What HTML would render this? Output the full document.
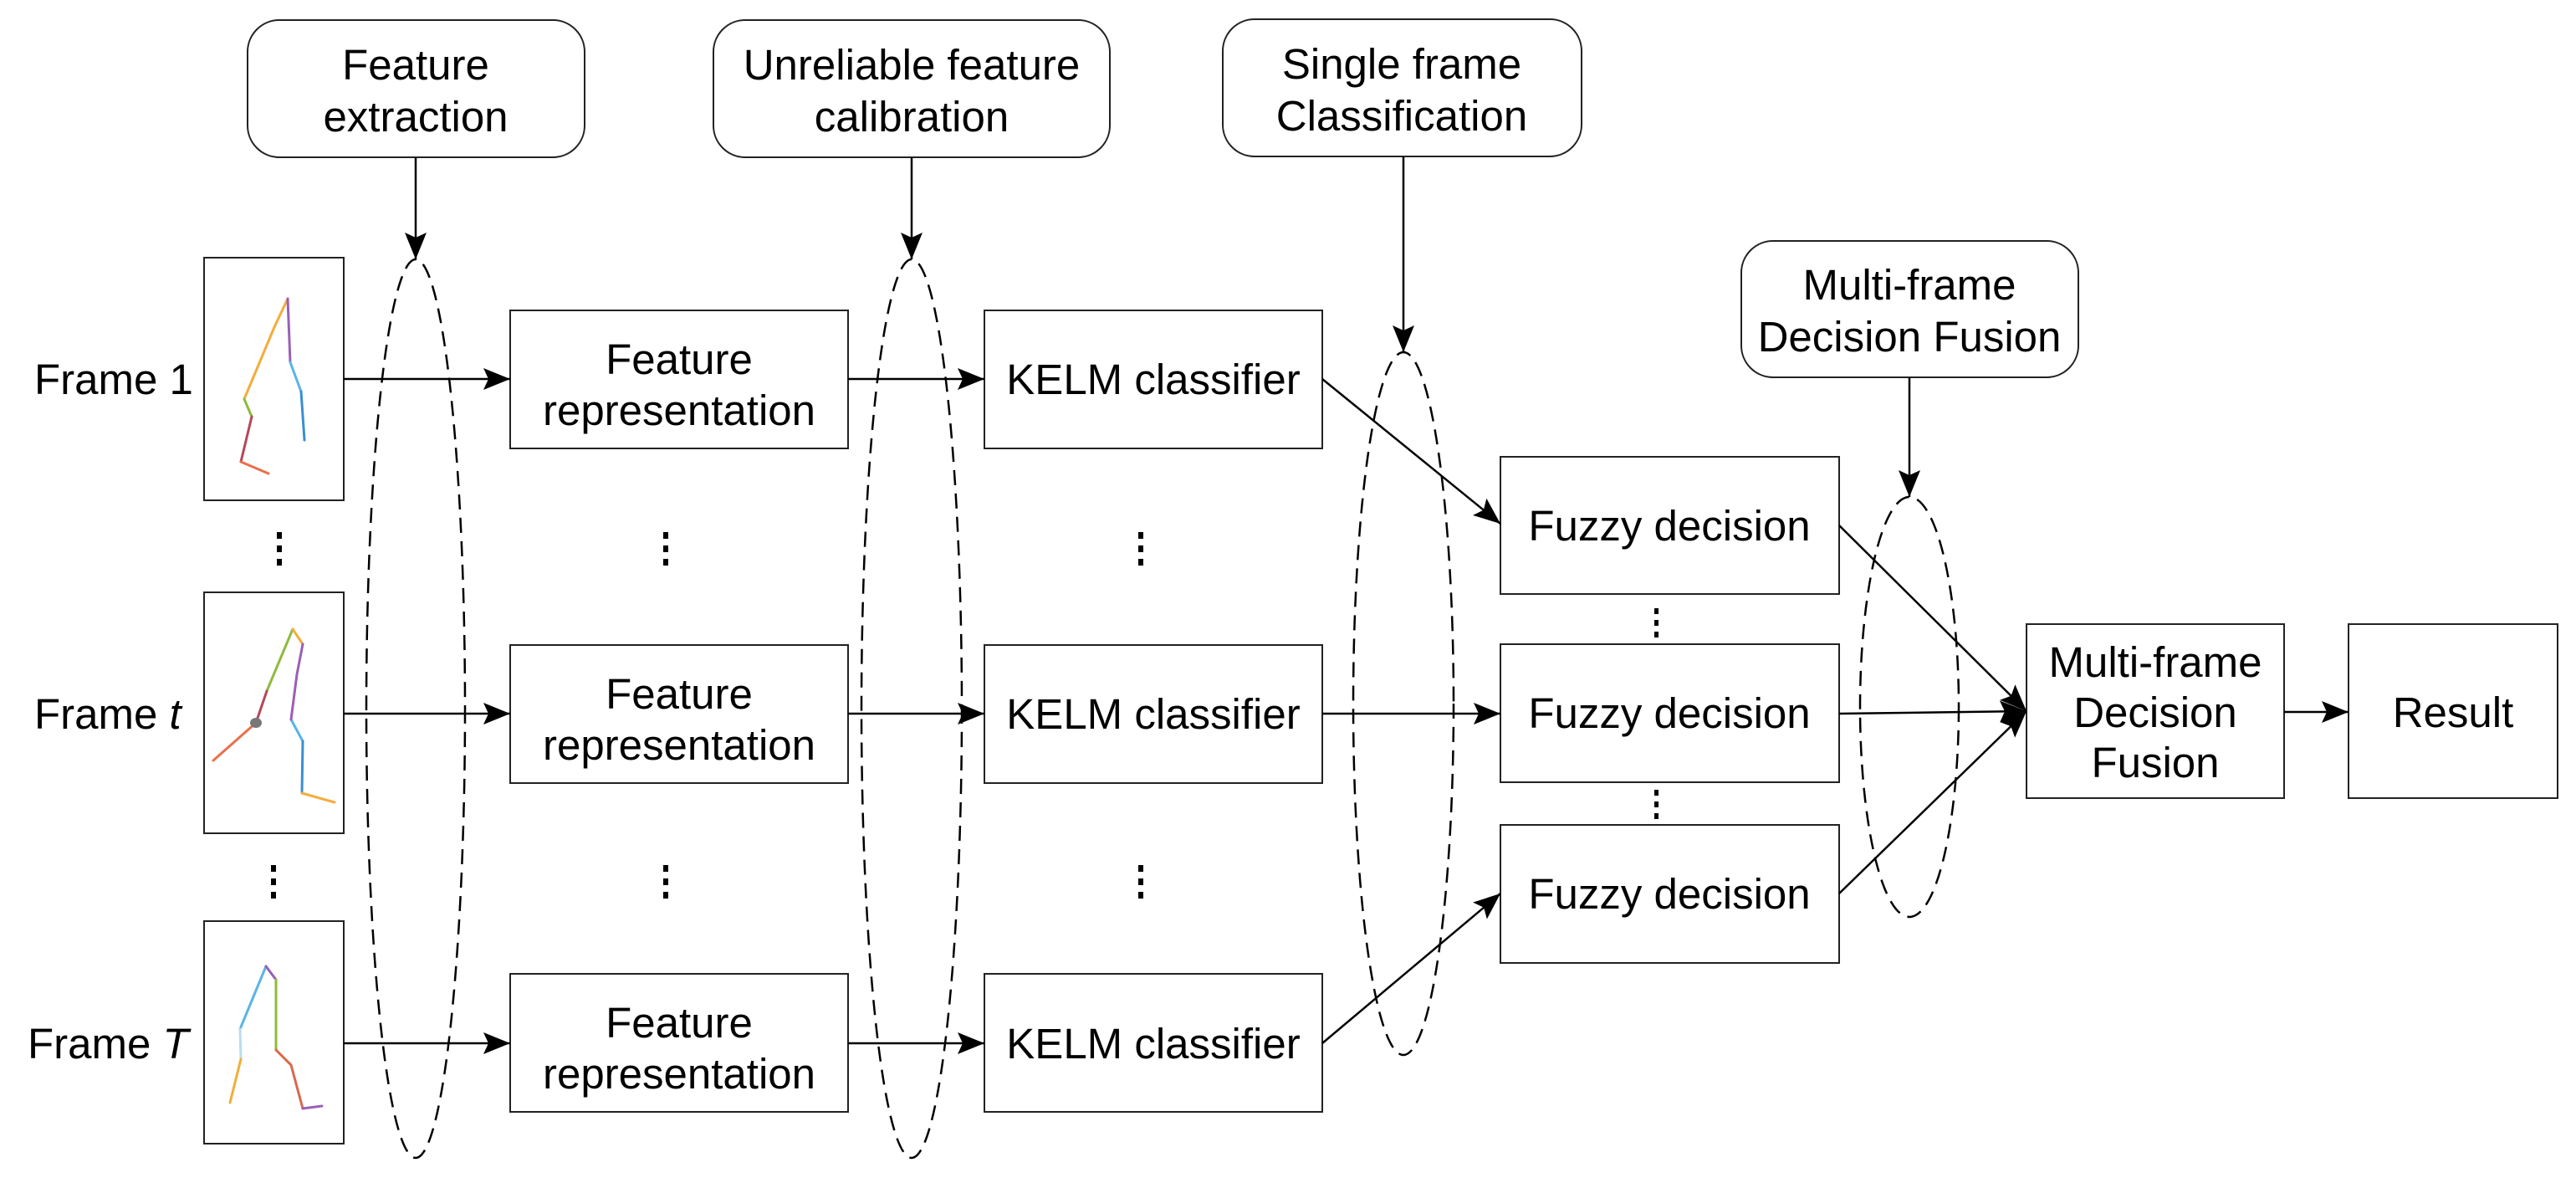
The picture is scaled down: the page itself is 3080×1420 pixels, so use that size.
<!DOCTYPE html>
<html><head><meta charset="utf-8"><style>
html,body{margin:0;padding:0;background:#fff}
svg{display:block}
text{font-family:"Liberation Sans",Arial,sans-serif;font-size:51px;fill:#000}
</style></head><body>
<svg width="3080" height="1420" viewBox="0 0 3080 1420" xmlns="http://www.w3.org/2000/svg">
<defs>
<marker id="a" markerUnits="userSpaceOnUse" markerWidth="34" markerHeight="26" refX="32" refY="13" orient="auto">
<path d="M0,0 L32,13 L0,26 L6,13 Z" fill="#000"/>
</marker>
</defs>
<g fill="#fff" stroke="#222" stroke-width="2">
<rect x="296" y="24" width="403" height="164" rx="38"/>
<rect x="853" y="24" width="474" height="164" rx="38"/>
<rect x="1462" y="23" width="429" height="164" rx="38"/>
<rect x="2082" y="288" width="403" height="163" rx="38"/>
<rect x="244" y="308" width="167" height="290"/>
<rect x="244" y="708" width="167" height="288"/>
<rect x="244" y="1101" width="167" height="266"/>
<rect x="610" y="371" width="404" height="165"/>
<rect x="610" y="771" width="404" height="165"/>
<rect x="610" y="1164" width="404" height="165"/>
<rect x="1177" y="371" width="404" height="165"/>
<rect x="1177" y="771" width="404" height="165"/>
<rect x="1177" y="1164" width="404" height="165"/>
<rect x="1794" y="546" width="405" height="164"/>
<rect x="1794" y="770" width="405" height="165"/>
<rect x="1794" y="986" width="405" height="165"/>
<rect x="2423" y="746" width="308" height="208"/>
<rect x="2808" y="746" width="250" height="208"/>
</g>
<g fill="none" stroke="#000" stroke-width="2.5" stroke-dasharray="18,10">
<ellipse cx="497" cy="847" rx="59" ry="537"/>
<ellipse cx="1090" cy="847" rx="60" ry="537"/>
<ellipse cx="1678" cy="841" rx="60" ry="420"/>
<ellipse cx="2283" cy="845" rx="59" ry="251"/>
</g>
<g stroke="#000" stroke-width="2.5" fill="none" marker-end="url(#a)">
<line x1="497" y1="188" x2="497" y2="310"/>
<line x1="1090" y1="188" x2="1090" y2="310"/>
<line x1="1678" y1="187" x2="1678" y2="421"/>
<line x1="2283" y1="451" x2="2283" y2="594"/>
<line x1="411" y1="453" x2="610" y2="453"/>
<line x1="411" y1="853" x2="610" y2="853"/>
<line x1="411" y1="1247" x2="610" y2="1247"/>
<line x1="1014" y1="453" x2="1177" y2="453"/>
<line x1="1014" y1="853" x2="1177" y2="853"/>
<line x1="1014" y1="1247" x2="1177" y2="1247"/>
<line x1="1581" y1="453" x2="1794" y2="626"/>
<line x1="1581" y1="853" x2="1794" y2="853"/>
<line x1="1581" y1="1247" x2="1794" y2="1068"/>
<line x1="2199" y1="628" x2="2423" y2="850"/>
<line x1="2199" y1="853" x2="2423" y2="850"/>
<line x1="2199" y1="1068" x2="2423" y2="850"/>
<line x1="2731" y1="851" x2="2808" y2="851"/>
</g>
<g fill="#000">
<rect x="331" y="636" width="6" height="8"/><rect x="331" y="652" width="6" height="8"/><rect x="331" y="668" width="6" height="8"/>
<rect x="324" y="1034" width="6" height="8"/><rect x="324" y="1050" width="6" height="8"/><rect x="324" y="1066" width="6" height="8"/>
<rect x="793" y="636" width="6" height="8"/><rect x="793" y="652" width="6" height="8"/><rect x="793" y="668" width="6" height="8"/>
<rect x="793" y="1034" width="6" height="8"/><rect x="793" y="1050" width="6" height="8"/><rect x="793" y="1066" width="6" height="8"/>
<rect x="1361" y="636" width="6" height="8"/><rect x="1361" y="652" width="6" height="8"/><rect x="1361" y="668" width="6" height="8"/>
<rect x="1361" y="1034" width="6" height="8"/><rect x="1361" y="1050" width="6" height="8"/><rect x="1361" y="1066" width="6" height="8"/>
<rect x="1978" y="727" width="5" height="7"/><rect x="1978" y="741" width="5" height="7"/><rect x="1978" y="755" width="5" height="7"/>
<rect x="1978" y="944" width="5" height="7"/><rect x="1978" y="958" width="5" height="7"/><rect x="1978" y="972" width="5" height="7"/>
</g>
<g fill="none" stroke-width="3" stroke-linecap="round">
<polyline points="344,357 328,391 292,477" stroke="#f3ad3c"/>
<polyline points="292,477 301,498" stroke="#8dbb3c"/>
<polyline points="301,498 288,552" stroke="#b5485a"/>
<polyline points="288,552 321,566" stroke="#e8704a"/>
<polyline points="344,357 347,433" stroke="#9b5fb5"/>
<polyline points="347,433 360,468" stroke="#5ab4e8"/>
<polyline points="360,468 364,526" stroke="#3a8fd0"/>
<polyline points="350,752 319,826" stroke="#8dbb3c"/>
<polyline points="319,826 306,864" stroke="#b5485a"/>
<polyline points="306,864 255,909" stroke="#e8704a"/>
<polyline points="350,752 362,770" stroke="#f3ad3c"/>
<polyline points="362,770 355,806" stroke="#9b5fb5"/>
<polyline points="348,860 362,886" stroke="#5ab4e8"/>
<polyline points="362,886 361,948" stroke="#3a8fd0"/>
<polyline points="361,948 400,959" stroke="#f3ad3c"/>
<polyline points="355,806 348,860" stroke="#9b5fb5"/>
<polyline points="318,1155 287,1230" stroke="#5ab4e8"/>
<polyline points="287,1230 288,1266" stroke="#b8dcf2"/>
<polyline points="288,1266 275,1318" stroke="#f3ad3c"/>
<polyline points="318,1155 330,1171" stroke="#9b5fb5"/>
<polyline points="330,1171 330,1255" stroke="#8dbb3c"/>
<polyline points="330,1255 348,1273 362,1325" stroke="#d9684a"/>
<polyline points="362,1325 385,1322" stroke="#9b5fb5"/>
</g>
<ellipse cx="306" cy="864" rx="7" ry="6" fill="#777"/>
<g text-anchor="middle">
<text x="497" y="95">Feature</text><text x="497" y="157">extraction</text>
<text x="1090" y="95">Unreliable feature</text><text x="1090" y="157">calibration</text>
<text x="1676" y="94">Single frame</text><text x="1676" y="156">Classification</text>
<text x="2283" y="358">Multi-frame</text><text x="2283" y="420">Decision Fusion</text>
<text x="812" y="447">Feature</text><text x="812" y="508">representation</text>
<text x="812" y="847">Feature</text><text x="812" y="908">representation</text>
<text x="812" y="1240">Feature</text><text x="812" y="1301">representation</text>
<text x="1379" y="471">KELM classifier</text>
<text x="1379" y="871">KELM classifier</text>
<text x="1379" y="1265">KELM classifier</text>
<text x="1996" y="646">Fuzzy decision</text>
<text x="1996" y="870">Fuzzy decision</text>
<text x="1996" y="1086">Fuzzy decision</text>
<text x="2577" y="809">Multi-frame</text><text x="2577" y="869">Decision</text><text x="2577" y="929">Fusion</text>
<text x="2933" y="869">Result</text>
</g>
<text x="41" y="471">Frame 1</text>
<text x="41" y="871">Frame <tspan font-style="italic">t</tspan></text>
<text x="33" y="1265">Frame <tspan font-style="italic">T</tspan></text>
</svg>
</body></html>
